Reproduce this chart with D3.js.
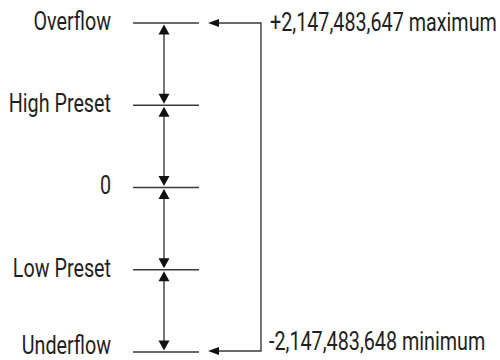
<!DOCTYPE html>
<html><head><meta charset="utf-8">
<script src="https://cdn.jsdelivr.net/npm/d3@7"></script>
<style>
html,body{margin:0;padding:0;background:#fff;}
svg text{font-family:Roboto,"Liberation Sans",sans-serif;font-size:25px;fill:#231f20;}
</style></head><body>
<svg id="c" width="500" height="360"></svg>
<script>
const levels = ["Overflow","High Preset","0","Low Preset","Underflow"];
const limitLabels = ["+2,147,483,647 maximum","-2,147,483,648 minimum"];
const limitLevels = ["Overflow","Underflow"];

const svg = d3.select("#c");
const y = d3.scalePoint().domain(levels).range([23, 352]);

const lineX0 = 133, lineX1 = 199, axisX = 164, bracketX = 261, tipX = 208;
const col = "#3a3a3a";
const squeeze = 0.79;

function label(x, yy, txt, anchor) {
  const g = svg.append("g").attr("transform", `translate(${x},${yy}) scale(${squeeze},1)`);
  g.append("text").attr("text-anchor", anchor).attr("dominant-baseline", "central").text(txt);
}

// horizontal level lines
svg.selectAll("line.lvl").data(levels).enter().append("line")
  .attr("x1", lineX0).attr("x2", lineX1)
  .attr("y1", d => y(d)).attr("y2", d => y(d))
  .attr("stroke", col).attr("stroke-width", 1.4);

// left labels
levels.forEach((d, i) => label(111, y(d) - (i === levels.length - 1 ? 6.5 : 2), d, "end"));

// vertical double arrows between consecutive levels
const pairs = d3.pairs(levels);
const ah = 10, aw = 5.5, gap = 1.5;
pairs.forEach(([a, b]) => {
  const y0 = y(a) + gap, y1 = y(b) - gap;
  svg.append("line").attr("x1", axisX).attr("x2", axisX)
    .attr("y1", y0 + ah - 1).attr("y2", y1 - ah + 1)
    .attr("stroke", col).attr("stroke-width", 1.4);
  svg.append("path").attr("d", `M${axisX},${y0} L${axisX-aw},${y0+ah} L${axisX+aw},${y0+ah} Z`).attr("fill", "#111");
  svg.append("path").attr("d", `M${axisX},${y1} L${axisX-aw},${y1-ah} L${axisX+aw},${y1-ah} Z`).attr("fill", "#111");
});

// bracket on the right
const yt = y(limitLevels[0]), yb = y(limitLevels[1]) - 1;
svg.append("path")
  .attr("d", `M${tipX+8},${yt} H${bracketX} V${yb} H${tipX+8}`)
  .attr("fill", "none").attr("stroke", col).attr("stroke-width", 1.4);
[yt, yb].forEach(yy => {
  svg.append("path").attr("d", `M${tipX},${yy} L${tipX+11},${yy-4} L${tipX+11},${yy+4} Z`).attr("fill", "#111");
});

// limit labels
label(270, yt - 1, limitLabels[0], "start");
label(269, yb - 10, limitLabels[1], "start");
</script>
</body></html>
